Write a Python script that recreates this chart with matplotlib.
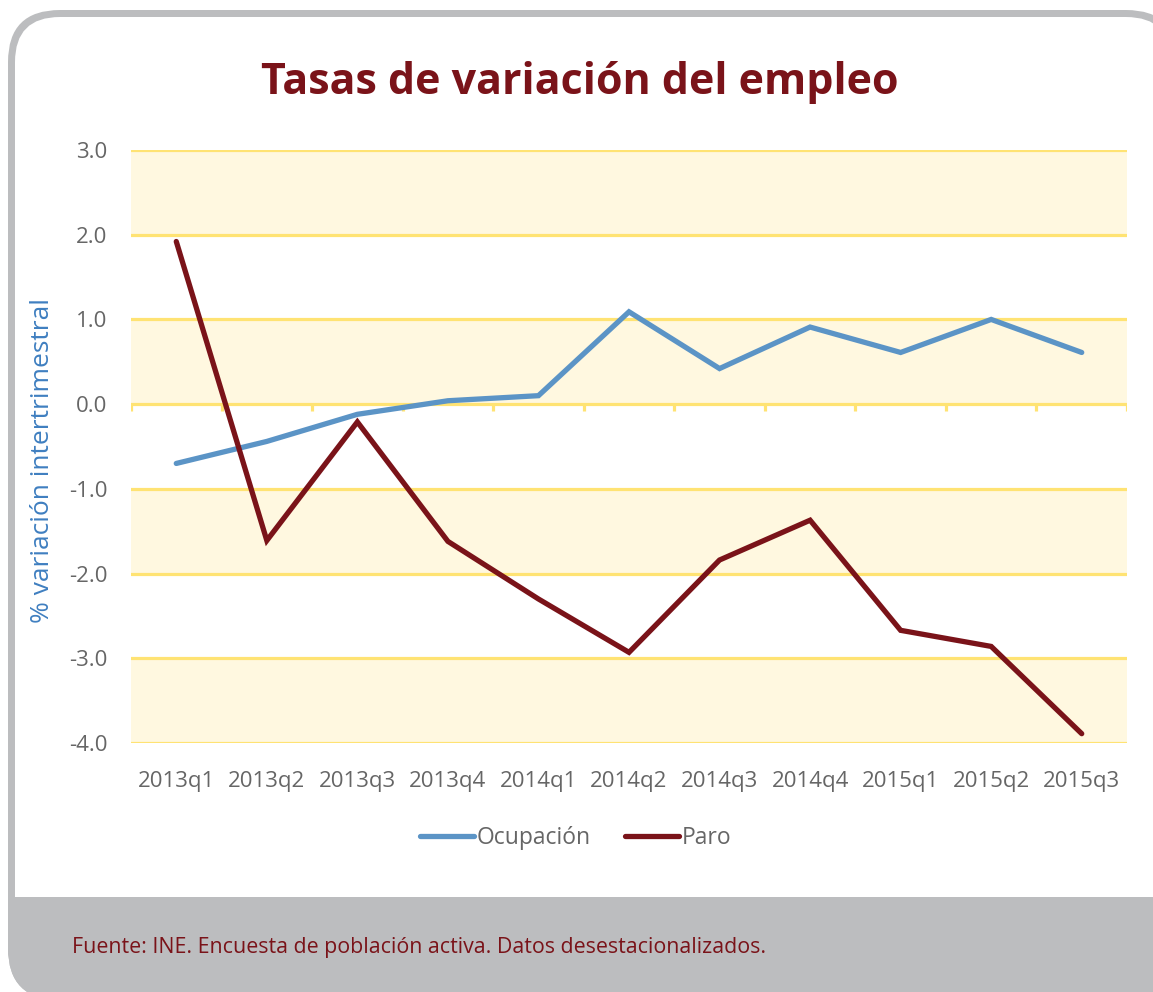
import matplotlib
matplotlib.use("Agg")
import matplotlib.pyplot as plt
from matplotlib.patches import FancyBboxPatch, Rectangle
import numpy as np

plt.rcParams['font.family'] = ['Open Sans', 'DejaVu Sans']

# Data
quarters = ['2013q1', '2013q2', '2013q3', '2013q4', '2014q1', '2014q2',
            '2014q3', '2014q4', '2015q1', '2015q2', '2015q3']
ocupacion = [-0.70, -0.44, -0.12, 0.04, 0.10, 1.09, 0.42, 0.91, 0.61, 1.00, 0.61]
paro = [1.92, -1.61, -0.21, -1.62, -2.30, -2.93, -1.84, -1.37, -2.67, -2.86, -3.89]
yticks = [3.0, 2.0, 1.0, 0.0, -1.0, -2.0, -3.0, -4.0]
bands = [(2, 3), (0, 1), (-2, -1), (-4, -3)]

dark_red = '#7a1319'
blue = '#5b94c6'
grid_yellow = '#ffe373'
band_fill = '#fff8e0'
frame_gray = '#bcbdbf'
text_gray = '#666666'

W, H = 1153, 992
fig = plt.figure(figsize=(W / 100, H / 100), dpi=100, facecolor='white')

# Background frame, drawn in pixel coordinates
bg = fig.add_axes([0, 0, 1, 1], zorder=0)
bg.set_xlim(0, W)
bg.set_ylim(H, 0)
bg.axis('off')
outer = FancyBboxPatch((8, 10), 1170, 990, boxstyle="round,pad=0,rounding_size=52",
                       facecolor=frame_gray, edgecolor='none')
bg.add_patch(outer)
bg.add_patch(FancyBboxPatch((15, 17), 1156, 940, boxstyle="round,pad=0,rounding_size=45",
                            facecolor='white', edgecolor='none'))
band = Rectangle((0, 897), W + 50, 120, facecolor=frame_gray, edgecolor='none')
bg.add_patch(band)
band.set_clip_path(outer)

# Main chart
ax = fig.add_axes([131 / W, 1 - 743 / H, 996 / W, 593 / H], zorder=1)
ax.set_facecolor('none')
x = np.arange(len(quarters))

for lo, hi in bands:
    ax.axhspan(lo, hi, color=band_fill, zorder=0, lw=0)
for yv in yticks:
    ax.axhline(yv, color=grid_yellow, lw=2.3, zorder=1)
# small ticks on the zero line between categories
ax.vlines(np.arange(len(quarters) + 1) - 0.5, -0.085, 0, color=grid_yellow, lw=2.3, zorder=1)

ax.plot(x, ocupacion, color=blue, lw=3.8, solid_capstyle='round', solid_joinstyle='miter',
        zorder=3, label='Ocupación')
ax.plot(x, paro, color=dark_red, lw=3.8, solid_capstyle='round', solid_joinstyle='miter',
        zorder=3, label='Paro')

ax.set_xlim(-0.5, len(quarters) - 0.5)
ax.set_ylim(-4, 3)
ax.set_yticks(yticks)
ax.set_yticklabels([f'{v:.1f}' for v in yticks])
ax.set_xticks(x)
ax.set_xticklabels(quarters)
ax.tick_params(axis='both', length=0, labelsize=16, labelcolor=text_gray)
ax.tick_params(axis='y', pad=17)
ax.tick_params(axis='x', pad=20)
for s in ax.spines.values():
    s.set_visible(False)

ax.set_ylabel('% variación intertrimestral', color='#3f7fc0', fontsize=19)
ax.yaxis.set_label_coords(-0.076, 0.477)

fig.text(580 / W, 1 - 82 / H, 'Tasas de variación del empleo', ha='center', va='center',
         fontsize=31, fontweight='bold', color=dark_red)

fig.legend(loc='center', bbox_to_anchor=(576 / W, 1 - 838 / H), ncol=2, frameon=False,
           fontsize=16.5, handlelength=2.35, handletextpad=0.12, columnspacing=1.5,
           labelcolor=text_gray)

fig.text(72 / W, 1 - 947 / H, 'Fuente: INE. Encuesta de población activa. Datos desestacionalizados.',
         ha='left', va='center', fontsize=15.4, color=dark_red)

fig.savefig('out.png', dpi=100, facecolor='white')
